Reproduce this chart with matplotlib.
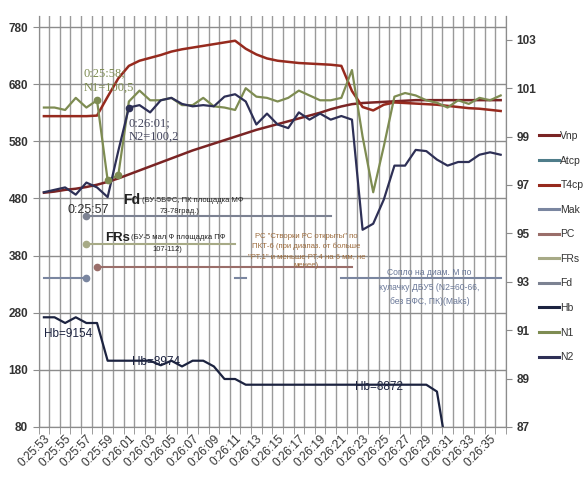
import numpy as np
import matplotlib.pyplot as plt
from matplotlib.lines import Line2D

plt.rcParams['font.family'] = ['Liberation Sans', 'DejaVu Sans']

times = ['0:25:53', '0:25:54', '0:25:55', '0:25:56', '0:25:57', '0:25:58', '0:25:59',
         '0:26:00', '0:26:01', '0:26:02', '0:26:03', '0:26:04', '0:26:05', '0:26:06',
         '0:26:07', '0:26:08', '0:26:09', '0:26:10', '0:26:11', '0:26:12', '0:26:13',
         '0:26:14', '0:26:15', '0:26:16', '0:26:17', '0:26:18', '0:26:19', '0:26:20',
         '0:26:21', '0:26:22', '0:26:23', '0:26:24', '0:26:25', '0:26:26', '0:26:27',
         '0:26:28', '0:26:29', '0:26:30', '0:26:31', '0:26:32', '0:26:33', '0:26:34',
         '0:26:35', '0:26:36']

# левая ось
vnp = [490, 492, 495, 497, 500, 504, 509, 515, 522, 529, 536, 543, 550, 557, 564,
       570, 576, 582, 588, 594, 600, 605, 610, 615, 620, 625, 630, 636, 641, 645,
       647, 648, 649, 650, 651, 652, 652, 652, 652, 652, 652, 652, 652, 652]
t4cp = [624, 624, 624, 624, 624, 625, 658, 690, 712, 721, 726, 731, 737, 741, 744,
        747, 750, 753, 756, 742, 732, 725, 721, 719, 717, 716, 715, 714, 712, 668,
        640, 634, 644, 648, 647, 646, 645, 644, 642, 640, 638, 637, 635, 633]
hb = [272, 272, 262, 272, 262, 262, 196, 196, 196, 196, 196, 188, 196, 186, 196,
      196, 186, 164, 164, 154, 154, 154, 154, 154, 154, 154, 154, 154, 154, 154,
      154, 154, 154, 154, 154, 154, 154, 142, 30, np.nan, np.nan, np.nan, np.nan, np.nan]

# правая ось
n1 = [100.2, 100.2, 100.1, 100.6, 100.2, 100.5, 97.2, 97.4, 100.45, 100.9, 100.5,
      100.5, 100.6, 100.3, 100.3, 100.6, 100.25, 100.2, 100.1, 101.0, 100.65, 100.6,
      100.45, 100.6, 100.9, 100.7, 100.5, 100.5, 100.6, 101.75, 99.0, 96.7, 98.6,
      100.65, 100.8, 100.7, 100.5, 100.4, 100.2, 100.5, 100.35, 100.6, 100.5, 100.7]
n2 = [96.7, 96.8, 96.9, 96.6, 97.1, 96.9, 96.5, 98.4, 100.2, 100.3, 100.0, 100.5,
      100.6, 100.35, 100.25, 100.3, 100.25, 100.65, 100.75, 100.45, 99.5, 99.95,
      99.5, 99.35, 100.0, 99.7, 99.95, 99.7, 99.85, 99.7, 95.15, 95.4, 96.4, 97.8,
      97.8, 98.45, 98.4, 98.05, 97.8, 97.95, 97.95, 98.25, 98.35, 98.25]

# признаки режимов: уровень на левой оси и интервалы (индексы кадров)
mak_level, mak_spans = 340, [(0, 4), (18, 19), (28, 43)]
pc_level, pc_spans = 360, [(5, 29)]
frs_level, frs_spans = 400, [(4, 18)]
fd_level, fd_spans = 450, [(4, 27)]

hb_notes = ['Hb=9154', 'Hb=8974', 'Hb=8872']


def flag_series(level, spans):
    s = np.full(len(times), np.nan)
    for a, b in spans:
        s[a:b + 1] = level
    return s


x = np.arange(len(times))
c = dict(vnp='#7a2424', atcp='#4f7d8a', t4cp='#962a1e', mak='#7a86a0', pc='#9a6e6a',
         frs='#a7aa86', fd='#7c8292', hb='#1c2340', n1='#7e8c52', n2='#2e3056')

fig = plt.figure(figsize=(5.83, 4.78), dpi=100)
ax = fig.add_axes([0.0662, 0.1067, 0.8017, 0.8607])
ax2 = ax.twinx()

ax.set_xlim(-0.5, len(times) - 0.5)
ax.set_ylim(80, 800)
ax2.set_ylim(87, 104)

ax.set_yticks(range(80, 781, 100))
ax.set_xticks(x[::2])
ax.set_xticklabels(times[::2], rotation=45, ha='right', va='top',
                   rotation_mode='anchor', fontsize=8.5, color='#333333')
ax.set_xticks(np.arange(-0.5, len(times)), minor=True)
ax.tick_params(axis='x', which='major', length=0, pad=4)
ax.tick_params(axis='x', which='minor', length=5, color='#8c8c8c')
ax.tick_params(axis='y', length=4, color='#8c8c8c', labelsize=8.5, labelcolor='#333333')
ax2.set_yticks(range(87, 104, 2))
ax2.tick_params(axis='y', length=4, color='#8c8c8c', labelsize=8.5, labelcolor='#333333')
for lab in ax.get_yticklabels() + ax2.get_yticklabels():
    lab.set_fontweight('bold')

ax.grid(True, axis='y', color='#8c8c8c', lw=1)
ax.grid(True, axis='x', which='minor', color='#9a9a9a', lw=1)
ax.set_axisbelow(True)
for a in (ax, ax2):
    a.spines['top'].set_visible(False)
    for s in ('left', 'right', 'bottom'):
        a.spines[s].set_color('#8c8c8c')

ax.plot(x, vnp, color=c['vnp'], lw=1.8)
ax.plot(x, t4cp, color=c['t4cp'], lw=1.8)
ax.plot(x, hb, color=c['hb'], lw=1.6)

ax.plot(x, flag_series(mak_level, mak_spans), color=c['mak'], lw=1.5)
ax.plot(x, flag_series(pc_level, pc_spans), color=c['pc'], lw=1.5)
ax.plot(x, flag_series(frs_level, frs_spans), color=c['frs'], lw=1.5)
ax.plot(x, flag_series(fd_level, fd_spans), color=c['fd'], lw=1.5)
ax.plot([4], [mak_level], 'o', color=c['mak'], ms=4.5)
ax.plot([5], [pc_level], 'o', color=c['pc'], ms=4.5)
ax.plot([4], [frs_level], 'o', color=c['frs'], ms=4.5)
ax.plot([4], [fd_level], 'o', color=c['fd'], ms=4.5)

ax2.plot(x, n1, color=c['n1'], lw=1.6)
ax2.plot(x, n2, color=c['n2'], lw=1.6)
ax2.plot(x[5:8], n1[5:8], 'o', color=c['n1'], ms=4.5)
ax2.plot([8], [n2[8]], 'o', color=c['n2'], ms=4.5)

# подписи точек
ax.text(3.7, 686, f"{times[5]};\nN1={n1[5]:.1f}".replace('.', ','), color=c['n1'],
        fontsize=9, family='Liberation Serif', va='center', linespacing=1.25)
ax.text(8.0, 600, f"{times[8]};\nN2={n2[8]:.1f}".replace('.', ','), color='#44465e',
        fontsize=9, family='Liberation Serif', va='center', linespacing=1.25)
ax.text(4.2, 460, times[4], color='#303030', fontsize=9, ha='center', va='center')

# подписи режимов
ax.text(9.2, 477, '(БУ-5БФС, ПК площадка МФ', color='#222222', fontsize=5.5, va='center')
ax.annotate('Fd', xy=(9.2, 477), xytext=(-1, 0), textcoords='offset points',
            color='#222222', fontsize=10, fontweight='bold', ha='right', va='center')
ax.text(12.8, 457, '73-78град.)', color='#222222', fontsize=5.5, ha='center', va='center')
ax.text(8.2, 411, '(БУ-5 мал Ф площадка ПФ', color='#222222', fontsize=5.5, va='center')
ax.annotate('FRs', xy=(8.2, 411), xytext=(-1, 0), textcoords='offset points',
            color='#222222', fontsize=9.5, fontweight='bold', ha='right', va='center')
ax.text(11.6, 390, '107-112)', color='#222222', fontsize=5.5, ha='center', va='center')

ax.text(24.7, 388, 'РС "Створки РС открыты" по\nПКТ-6 (при диапаз. от больше\n'
        '"РТ.1" и меньше РТ.4 на 6 мм, не\nменее)', color='#9c6b3c', fontsize=5.6,
        ha='center', va='center', linespacing=1.55)
ax.text(36.3, 325, 'Сопло на диам. М по\nкулачку ДБУ5 (N2=60-66,\nбез БФС, ПК)(Maks)',
        color='#6a7898', fontsize=6.2, ha='center', va='center', linespacing=1.75)

ax.text(2.3, 243, hb_notes[0], color=c['hb'], fontsize=8.5, ha='center', va='center')
ax.text(10.6, 194, hb_notes[1], color=c['hb'], fontsize=8.5, ha='center', va='center')
ax.text(31.5, 150, hb_notes[2], color=c['hb'], fontsize=8.5, ha='center', va='center')

names = ['Vnp', 'Atcp', 'T4cp', 'Mak', 'PC', 'FRs', 'Fd', 'Hb', 'N1', 'N2']
keys = ['vnp', 'atcp', 't4cp', 'mak', 'pc', 'frs', 'fd', 'hb', 'n1', 'n2']
handles = [Line2D([], [], color=c[k], lw=2.2) for k in keys]
fig.legend(handles, names, loc='upper left', bbox_to_anchor=(539 / 583, 1 - 131 / 478),
           frameon=False, fontsize=7.5, handlelength=1.9, handletextpad=0.15,
           labelspacing=1.4, borderpad=0, borderaxespad=0, labelcolor='#333333')

fig.savefig('out.png', dpi=100, facecolor='white')
